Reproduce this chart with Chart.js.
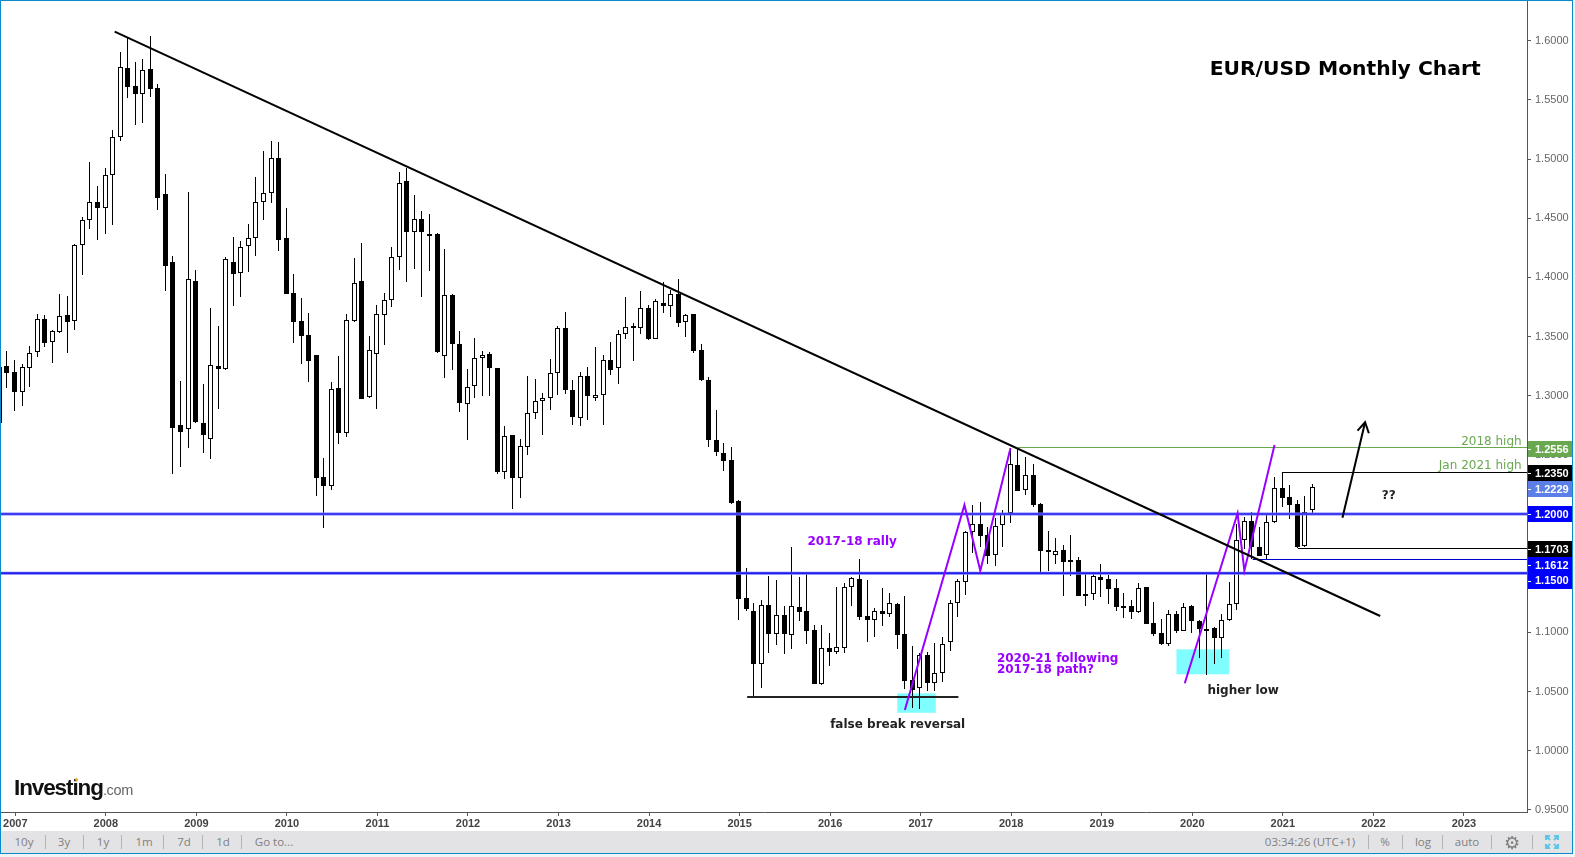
<!DOCTYPE html>
<html>
<head>
<meta charset="utf-8">
<title>EUR/USD Monthly Chart</title>
<script src="https://cdn.jsdelivr.net/npm/chart.js@4/dist/chart.umd.min.js"></script>
<style>
html, body { margin: 0; padding: 0; background: #f1f3f6; overflow: hidden; }
#chartBox { position: absolute; left: 0; top: 0; width: 1575px; height: 857px; }
#paper { position: absolute; left: 0; top: 0; width: 1573px; height: 854px; background: #ffffff; }
#frame { position: absolute; left: 0; top: 0; width: 1571px; height: 852px; border: 1px solid #0a8acb; pointer-events: none; }
#bar { position: absolute; left: 1px; top: 831px; width: 1571px; height: 22px; background: #e3e3e5; color: #808080;
       font: 11.5px "Open Sans", sans-serif; line-height: 22px; }
#bar span { position: absolute; top: 0; transform: translateX(-50%); white-space: nowrap; }
#bar i { position: absolute; top: 4px; width: 1px; height: 14px; background: #b4b4b4; }
#bar svg { position: absolute; top: 4px; }
#logo { position: absolute; left: 14px; top: 775px; font: bold 22.5px "Liberation Sans", sans-serif; letter-spacing: -1.1px; color: #111; white-space: nowrap; }
#logo small { font: 14.5px "Liberation Sans", sans-serif; letter-spacing: -0.3px; color: #666; }
#dot { position: absolute; left: 75px; top: 778px; width: 3px; height: 3px; border-radius: 2px; background: #f5a623; }
</style>
</head>
<body>
<div id="paper"></div>
<div id="chartBox"><canvas id="eurChart" width="1575" height="857"></canvas></div>
<div id="logo">Investing<small>.com</small></div>
<div id="dot"></div>
<div id="bar">
  <span style="left:23px">10y</span><i style="left:44px"></i>
  <span style="left:63px">3y</span><i style="left:82px"></i>
  <span style="left:102px">1y</span><i style="left:120px"></i>
  <span style="left:143px">1m</span><i style="left:162px"></i>
  <span style="left:183px">7d</span><i style="left:201px"></i>
  <span style="left:222px">1d</span><i style="left:240px"></i>
  <span style="left:273px">Go to...</span>
  <span style="left:1309px">03:34:26 (UTC+1)</span><i style="left:1367px"></i>
  <span style="left:1384px">%</span><i style="left:1401px"></i>
  <span style="left:1422px">log</span><i style="left:1441px"></i>
  <span style="left:1466px">auto</span><i style="left:1490px"></i>
  <span style="left:1511px;font-size:18px">⚙</span><i style="left:1531px"></i>
  <svg style="left:1544px" width="14" height="14" viewBox="0 0 14 14" fill="none" stroke="#5cc6ea" stroke-width="2">
    <path d="M1 5V1H5M9 1H13V5M13 9V13H9M5 13H1V9M1 1L5 5M13 1L9 5M13 13L9 9M1 13L5 9"/>
  </svg>
</div>
<script>
// monthly candles, Nov 2006 to May 2021, one row per year
var opens = [
  1.2766, 1.3251,
  1.3200, 1.3034, 1.3231, 1.3372, 1.3645, 1.3451, 1.3541, 1.3679, 1.3628, 1.4276, 1.4482, 1.4634,
  1.4583, 1.4862, 1.5189, 1.5767, 1.5617, 1.5552, 1.5758, 1.5597, 1.4702, 1.4127, 1.2749, 1.2715,
  1.3966, 1.2766, 1.2631, 1.3248, 1.3228, 1.4127, 1.4034, 1.4268, 1.4330, 1.4634, 1.4710, 1.5009,
  1.4330, 1.3865, 1.3628, 1.3510, 1.3341, 1.2310, 1.2239, 1.3062, 1.2687, 1.3634, 1.3966, 1.2986,
  1.3349, 1.3685, 1.3806, 1.4175, 1.4817, 1.4384, 1.4489, 1.4351, 1.4369, 1.3333, 1.3848, 1.3436,
  1.2930, 1.3080, 1.3315, 1.3351, 1.3234, 1.2355, 1.2668, 1.2304, 1.2566, 1.2852, 1.2954, 1.2978,
  1.3189, 1.3568, 1.3047, 1.2810, 1.3165, 1.2978, 1.3002, 1.3300, 1.3231, 1.3517, 1.3589, 1.3574,
  1.3737, 1.3481, 1.3779, 1.3761, 1.3860, 1.3625, 1.3691, 1.3384, 1.3132, 1.2626, 1.2515, 1.2457,
  1.2110, 1.1287, 1.1183, 1.0735, 1.1228, 1.0989, 1.1144, 1.0975, 1.1211, 1.1177, 1.1017, 1.0566,
  1.0865, 1.0837, 1.0870, 1.1380, 1.1448, 1.1135, 1.1107, 1.1177, 1.1158, 1.1237, 1.0983, 1.0594,
  1.0532, 1.0806, 1.0575, 1.0659, 1.0915, 1.1245, 1.1423, 1.1845, 1.1913, 1.1820, 1.1651, 1.1904,
  1.2006, 1.2411, 1.2200, 1.2327, 1.2082, 1.1693, 1.1651, 1.1693, 1.1608, 1.1608, 1.1321, 1.1321,
  1.1468, 1.1448, 1.1372, 1.1223, 1.1220, 1.1169, 1.1380, 1.1076, 1.0991, 1.0904, 1.1152, 1.1014,
  1.1220, 1.1096, 1.1008, 1.1034, 1.0955, 1.1101, 1.1237, 1.1783, 1.1938, 1.1718, 1.1656, 1.1930,
  1.2217, 1.2141, 1.2082, 1.1727, 1.2031
];
var highs = [
  1.3250, 1.3378,
  1.3301, 1.3265, 1.3420, 1.3690, 1.3682, 1.3555, 1.3859, 1.3842, 1.4282, 1.4513, 1.4975, 1.4772,
  1.4921, 1.5245, 1.5905, 1.6020, 1.5820, 1.5845, 1.6040, 1.5631, 1.4873, 1.4180, 1.3124, 1.4719,
  1.4062, 1.3099, 1.3738, 1.3589, 1.4169, 1.4341, 1.4307, 1.4451, 1.4848, 1.5068, 1.5152, 1.5144,
  1.4586, 1.4028, 1.3823, 1.3696, 1.3344, 1.2470, 1.3113, 1.3335, 1.3690, 1.4164, 1.4287, 1.3504,
  1.3766, 1.3865, 1.4254, 1.4890, 1.4920, 1.4694, 1.4564, 1.4537, 1.4372, 1.4236, 1.3860, 1.3544,
  1.3228, 1.3487, 1.3378, 1.3372, 1.3237, 1.2746, 1.2671, 1.2638, 1.3168, 1.3144, 1.3023, 1.3309,
  1.3589, 1.3706, 1.3132, 1.3198, 1.3243, 1.3412, 1.3342, 1.3454, 1.3559, 1.3833, 1.3613, 1.3884,
  1.3764, 1.3815, 1.3959, 1.3890, 1.3986, 1.3688, 1.3694, 1.3439, 1.3159, 1.2882, 1.2602, 1.2566,
  1.2118, 1.1541, 1.1245, 1.1273, 1.1476, 1.1442, 1.1223, 1.1721, 1.1468, 1.1504, 1.1062, 1.1062,
  1.0991, 1.1383, 1.1414, 1.1468, 1.1620, 1.1442, 1.1208, 1.1375, 1.1332, 1.1245, 1.1307, 1.0884,
  1.0822, 1.0831, 1.0907, 1.0958, 1.1273, 1.1451, 1.1856, 1.2076, 1.2101, 1.1893, 1.1963, 1.2034,
  1.2555, 1.2549, 1.2479, 1.2420, 1.2090, 1.1854, 1.1794, 1.1738, 1.1820, 1.1634, 1.1504, 1.1493,
  1.1575, 1.1487, 1.1448, 1.1330, 1.1273, 1.1414, 1.1383, 1.1256, 1.1113, 1.1189, 1.1177, 1.1248,
  1.1231, 1.1104, 1.1499, 1.1045, 1.1155, 1.1425, 1.1916, 1.1972, 1.2017, 1.1887, 1.2006, 1.2313,
  1.2352, 1.2245, 1.2118, 1.2152, 1.2254
];
var lows = [
  1.2760, 1.3062,
  1.2873, 1.2915, 1.3076, 1.3330, 1.3414, 1.3273, 1.3532, 1.3363, 1.3555, 1.4020, 1.4409, 1.4316,
  1.4366, 1.4442, 1.5155, 1.5519, 1.5288, 1.5304, 1.5527, 1.4569, 1.3887, 1.2341, 1.2400, 1.2558,
  1.2769, 1.2518, 1.2468, 1.2890, 1.3220, 1.3761, 1.3837, 1.4048, 1.4183, 1.4485, 1.4631, 1.4226,
  1.3857, 1.3448, 1.3268, 1.3118, 1.2155, 1.1884, 1.2206, 1.2594, 1.2653, 1.3625, 1.2969, 1.2980,
  1.2885, 1.3428, 1.3752, 1.4062, 1.3959, 1.4074, 1.3836, 1.4056, 1.3363, 1.3147, 1.3213, 1.2858,
  1.2623, 1.2978, 1.2999, 1.2993, 1.2337, 1.2295, 1.2039, 1.2135, 1.2502, 1.2806, 1.2665, 1.2882,
  1.3002, 1.3017, 1.2755, 1.2746, 1.2797, 1.2957, 1.2755, 1.3177, 1.3101, 1.3475, 1.3294, 1.3523,
  1.3469, 1.3475, 1.3697, 1.3664, 1.3580, 1.3496, 1.3360, 1.3123, 1.2569, 1.2490, 1.2361, 1.2087,
  1.1104, 1.1183, 1.0462, 1.0532, 1.0828, 1.0893, 1.0820, 1.0862, 1.1099, 1.0904, 1.0560, 1.0552,
  1.0718, 1.0820, 1.0828, 1.1225, 1.1104, 1.0921, 1.0963, 1.1056, 1.1132, 1.0862, 1.0521, 1.0363,
  1.0355, 1.0507, 1.0507, 1.0583, 1.0845, 1.1132, 1.1318, 1.1673, 1.1724, 1.1577, 1.1563, 1.1724,
  1.1927, 1.2191, 1.2163, 1.2062, 1.1507, 1.1518, 1.1577, 1.1310, 1.1480, 1.1304, 1.1225, 1.1273,
  1.1296, 1.1239, 1.1180, 1.1124, 1.1113, 1.1163, 1.1068, 1.0972, 1.0895, 1.0884, 1.0991, 1.1008,
  1.0997, 1.0786, 1.0639, 1.0732, 1.0780, 1.1095, 1.1189, 1.1707, 1.1617, 1.1642, 1.1617, 1.1924,
  1.2059, 1.1961, 1.1712, 1.1721, 1.1992
];
var closes = [
  1.3245, 1.3194,
  1.3034, 1.3239, 1.3358, 1.3645, 1.3448, 1.3544, 1.3671, 1.3625, 1.4271, 1.4482, 1.4634, 1.4589,
  1.4862, 1.5183, 1.5775, 1.5612, 1.5552, 1.5755, 1.5595, 1.4673, 1.4099, 1.2730, 1.2696, 1.3983,
  1.2777, 1.2670, 1.3256, 1.3228, 1.4152, 1.4031, 1.4254, 1.4330, 1.4634, 1.4716, 1.5006, 1.4318,
  1.3862, 1.3625, 1.3507, 1.3296, 1.2307, 1.2239, 1.3054, 1.2687, 1.3637, 1.3949, 1.2975, 1.3383,
  1.3687, 1.3806, 1.4169, 1.4800, 1.4384, 1.4495, 1.4384, 1.4369, 1.3372, 1.3848, 1.3433, 1.2942,
  1.3071, 1.3315, 1.3342, 1.3234, 1.2352, 1.2659, 1.2304, 1.2575, 1.2852, 1.2954, 1.2978, 1.3189,
  1.3568, 1.3044, 1.2816, 1.3165, 1.2993, 1.3005, 1.3300, 1.3213, 1.3520, 1.3577, 1.3574, 1.3737,
  1.3475, 1.3797, 1.3761, 1.3857, 1.3616, 1.3685, 1.3378, 1.3129, 1.2623, 1.2521, 1.2445, 1.2093,
  1.1285, 1.1200, 1.0735, 1.1228, 1.0989, 1.1144, 1.0989, 1.1220, 1.1175, 1.1008, 1.0566, 1.0865,
  1.0837, 1.0873, 1.1380, 1.1456, 1.1132, 1.1107, 1.1177, 1.1158, 1.1245, 1.0980, 1.0591, 1.0515,
  1.0806, 1.0575, 1.0653, 1.0899, 1.1245, 1.1431, 1.1845, 1.1913, 1.1817, 1.1648, 1.1901, 1.1997,
  1.2420, 1.2197, 1.2327, 1.2079, 1.1690, 1.1682, 1.1690, 1.1597, 1.1597, 1.1310, 1.1310, 1.1473,
  1.1445, 1.1369, 1.1217, 1.1217, 1.1169, 1.1372, 1.1073, 1.0989, 1.0901, 1.1152, 1.1014, 1.1211,
  1.1099, 1.1031, 1.1031, 1.0955, 1.1101, 1.1237, 1.1777, 1.1938, 1.1718, 1.1648, 1.1930, 1.2217,
  1.2138, 1.2073, 1.1724, 1.2020, 1.2231
];
var firstMonth = -2; // Jan 2007 is month 0 on the x axis
var firstYear = 2007;
var priceTicksStep = 0.05;

// drawn lines, as [month, price]
var trendLine = [[13.17, 1.6076], [180.9, 1.1138]];
var rally2017 = [[117.9, 1.0343], [125.8, 1.2076], [127.9, 1.1521], [131.9, 1.2555]];
var rally2020 = [[155.0, 1.0569], [162.0, 1.2006], [162.9, 1.1521], [166.9, 1.2583]];
var supportLine = [[97.0, 1.0453], [125.0, 1.0453]];
var arrowShaft = [[175.9, 1.1969], [178.9, 1.2775]];
var arrowHead = [[177.9, 1.2704], [178.9, 1.2775], [179.4, 1.2682]];
var high2018 = [[132.9, 1.2556], [200.4, 1.2556]];
var high2021 = [[168, 1.2350], [200.4, 1.2350]];
var low2021 = [[170, 1.1703], [200.4, 1.1703]];
var low2020 = [[164, 1.1612], [200.4, 1.1612]];
var level120 = [[-2, 1.2000], [200.4, 1.2000]];
var level115 = [[-2, 1.1500], [200.4, 1.1500]];

// cyan boxes: month from, month to, price top, price bottom
var boxes = [[116.9, 122.0, 1.0484, 1.0320], [153.9, 160.9, 1.0856, 1.0645]];

// text on the chart
var noteText = ['EUR/USD Monthly Chart', '2017-18 rally', '2020-21 following', '2017-18 path?', 'false break reversal', 'higher low', '??', '2018 high', 'Jan 2021 high'];
var noteMonth = [158.3, 105.0, 130.1, 130.1, 108.0, 158.0, 181.1, 199.65, 199.65];
var notePrice = [1.5708, 1.1740, 1.0749, 1.0654, 1.0191, 1.0476, 1.2129, 1.2583, 1.2380];
var noteColor = ['#000000', '#9900ff', '#9900ff', '#9900ff', '#222222', '#222222', '#222222', '#6aa84f', '#6aa84f'];
var noteFont = ['bold 20.3px "DejaVu Sans"', 'bold 12px "DejaVu Sans"', 'bold 12px "DejaVu Sans"', 'bold 12px "DejaVu Sans"', 'bold 12px "DejaVu Sans"', 'bold 12px "DejaVu Sans"', 'bold 12px "DejaVu Sans"', '12px "DejaVu Sans"', '12px "DejaVu Sans"'];
var noteAlign = ['left', 'left', 'left', 'left', 'left', 'left', 'left', 'right', 'right'];

// price tags on the right axis
var tagText = ['1.2556', '1.2350', '1.2229', '1.2000', '1.1703', '1.1612', '1.1500'];
var tagPrice = [1.2549, 1.2346, 1.2211, 1.1999, 1.1704, 1.1569, 1.1434];
var tagColor = ['#6aa84f', '#000000', '#5b7fe6', '#0000ff', '#000000', '#0000ff', '#0000ff'];

var xMin = -1.895, xMax = 200.36;
var yMin = 0.94814, yMax = 1.63355;

var wickData = [], bodyData = [], bodyColors = [];
for (var i = 0; i < opens.length; i++) {
    var m = i + firstMonth;
    wickData.push({ x: m, y: [lows[i], highs[i]] });
    bodyData.push({ x: m, y: [opens[i], closes[i]] });
    bodyColors.push(closes[i] >= opens[i] ? '#ffffff' : '#000000');
}

function linePoints(list) {
    return list.map(function (p) { return { x: p[0], y: p[1] }; });
}

function lineSet(list, color, width) {
    return {
        type: 'line',
        data: linePoints(list),
        borderColor: color,
        borderWidth: width,
        pointRadius: 0,
        tension: 0,
        order: 0
    };
}

// snap candles and thin level lines to whole pixels so they stay sharp, like the original
var snapMarks = {
    id: 'snapMarks',
    afterDatasetsUpdate: function (chart) {
        chart.getSortedVisibleDatasetMetas().forEach(function (meta) {
            if (meta.type === 'line') {
                if (chart.data.datasets[meta.index].borderWidth === 1) {
                    meta.data.forEach(function (el) { el.y = Math.round(el.y) - 0.5; });
                }
                return;
            }
            meta.data.forEach(function (el) {
                el.x = Math.floor(el.x - 0.8) + 0.5;
                var top = Math.round(Math.min(el.y, el.base));
                var bottom = Math.round(Math.max(el.y, el.base));
                if (bottom - top < 2) bottom = top + 2;
                el.y = top;
                el.base = bottom;
                el.height = bottom - top;
            });
        });
    }
};

var overlay = {
    id: 'overlay',
    beforeDatasetsDraw: function (chart) {
        var ctx = chart.ctx, x = chart.scales.x, y = chart.scales.y;
        ctx.save();
        ctx.fillStyle = '#80fdff';
        boxes.forEach(function (b) {
            var left = x.getPixelForValue(b[0]), right = x.getPixelForValue(b[1]);
            var top = y.getPixelForValue(b[2]), bottom = y.getPixelForValue(b[3]);
            ctx.fillRect(left, top, right - left, bottom - top);
        });
        ctx.restore();
    },
    afterDraw: function (chart) {
        var ctx = chart.ctx, x = chart.scales.x, y = chart.scales.y;
        ctx.save();
        ctx.textBaseline = 'alphabetic';
        noteText.forEach(function (t, i) {
            ctx.font = noteFont[i];
            ctx.fillStyle = noteColor[i];
            ctx.textAlign = noteAlign[i];
            ctx.fillText(t, x.getPixelForValue(noteMonth[i]), y.getPixelForValue(notePrice[i]));
        });
        // the bottom tick label is cut off by the axis in the original
        ctx.fillStyle = '#ffffff';
        ctx.fillRect(chart.chartArea.right + 1, chart.chartArea.bottom + 1, 44, 19);
        // price tags
        ctx.font = 'bold 11px "Liberation Sans"';
        ctx.textAlign = 'left';
        ctx.textBaseline = 'middle';
        tagText.forEach(function (t, i) {
            var py = y.getPixelForValue(tagPrice[i]);
            ctx.fillStyle = tagColor[i];
            ctx.fillRect(chart.chartArea.right + 1, Math.round(py - 8), 44, 16);
            ctx.fillStyle = '#ffffff';
            ctx.fillRect(chart.chartArea.right + 1, Math.round(py), 3, 1);
            ctx.fillText(t, chart.chartArea.right + 8, py + 0.5);
        });
        ctx.restore();
    }
};

var ctx = document.getElementById('eurChart').getContext('2d');

var myChart = new Chart(ctx, {
    type: 'bar',
    data: {
        datasets: [
            lineSet(trendLine, '#000000', 2),
            lineSet(rally2017, '#9900ff', 2),
            lineSet(rally2020, '#9900ff', 2),
            lineSet(supportLine, '#222222', 2),
            lineSet(arrowShaft, '#000000', 2),
            lineSet(arrowHead, '#000000', 2),
            lineSet(high2018, '#6aa84f', 1),
            lineSet(high2021, '#000000', 1),
            lineSet(low2021, '#000000', 1),
            lineSet(low2020, '#0000cc', 1),
            lineSet(level120, '#0000e0', 1.2),
            lineSet(level115, '#0000e0', 1.2),
            lineSet(level120, '#7a7aff', 3),
            lineSet(level115, '#7a7aff', 3),
            {
                data: bodyData,
                backgroundColor: bodyColors,
                borderColor: '#000000',
                borderWidth: 1,
                borderSkipped: false,
                inflateAmount: 0,
                barThickness: 5,
                grouped: false,
                order: 1
            },
            {
                data: wickData,
                backgroundColor: '#000000',
                borderWidth: 0,
                inflateAmount: 0,
                barThickness: 1,
                grouped: false,
                order: 2
            }
        ]
    },
    options: {
        responsive: false,
        animation: false,
        events: [],
        layout: { padding: { left: 1, top: 1, right: 4, bottom: 26 } },
        plugins: { legend: { display: false }, tooltip: { enabled: false } },
        scales: {
            x: {
                type: 'linear',
                min: xMin,
                max: xMax,
                offset: false,
                afterFit: function (s) { s.height = 19; s.paddingLeft = 0; s.paddingRight = 0; },
                border: { display: true, color: '#555555' },
                grid: { offset: false, drawOnChartArea: false, drawTicks: true, tickLength: 4, color: '#555555' },
                ticks: {
                    stepSize: 12,
                    includeBounds: false,
                    autoSkip: false,
                    maxRotation: 0,
                    padding: 1,
                    color: '#444444',
                    font: { family: '"Liberation Sans"', size: 11, weight: 'bold' },
                    callback: function (v) { return String(firstYear + v / 12); }
                }
            },
            y: {
                position: 'right',
                min: yMin,
                max: yMax,
                afterFit: function (s) { s.width = 44; s.paddingTop = 0; s.paddingBottom = 0; },
                border: { display: true, color: '#555555' },
                grid: { drawOnChartArea: false, drawTicks: true, tickLength: 4, color: '#555555' },
                ticks: {
                    stepSize: priceTicksStep,
                    includeBounds: false,
                    autoSkip: false,
                    padding: 4,
                    color: '#666666',
                    font: { family: '"Liberation Sans"', size: 11 },
                    callback: function (v) { return v.toFixed(4); }
                }
            }
        }
    },
    plugins: [snapMarks, overlay]
});
</script>
<div id="frame"></div>
</body>
</html>
